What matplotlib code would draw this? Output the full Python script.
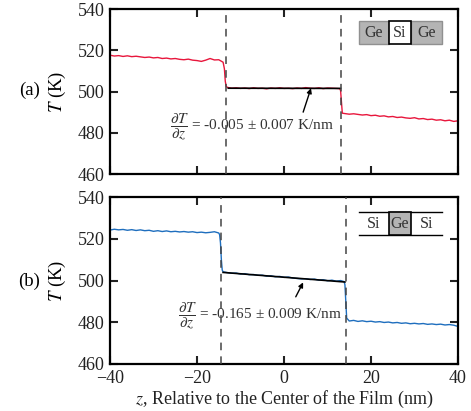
import matplotlib
matplotlib.use("Agg")
import matplotlib.pyplot as plt
from matplotlib.patches import Rectangle

plt.rcParams['font.family'] = ['Liberation Serif', 'DejaVu Serif']
plt.rcParams['mathtext.fontset'] = 'stix'
plt.rcParams['font.size'] = 12

# ---- panel (a): Ge | Si | Ge ----
z_a = [-40, -39, -38, -37, -36, -35, -34, -33, -32, -31, -30, -29, -28, -27, -26,
       -25, -24, -23, -22, -21, -20, -19, -18, -17, -16, -15, -14,
       -13.7, -13.5, -13.3,
       -13, -12, -11, -10, -9, -8, -7, -6, -5, -4, -3, -2, -1, 0, 1, 2, 3, 4, 5,
       6, 7, 8, 9, 10, 11, 12, 12.8,
       13.0, 13.2, 13.4,
       14, 15, 16, 17, 18, 19, 20, 21, 22, 23, 24, 25, 26, 27, 28, 29, 30, 31,
       32, 33, 34, 35, 36, 37, 38, 39, 40]
T_a = [517.6, 517.2, 517.4, 517.0, 517.3, 516.9, 517.1, 516.8, 516.5, 516.7,
       516.3, 516.5, 516.0, 516.2, 515.8, 516.0, 515.6, 515.4, 515.7, 515.2,
       515.0, 514.6, 515.2, 516.0, 515.3, 515.4, 514.2,
       511.0, 505.0, 502.5,
       502.0, 501.6, 501.8, 501.5, 501.7, 501.4, 501.8, 501.5, 501.6, 501.3,
       501.7, 501.5, 501.8, 501.5, 501.6, 501.4, 501.7, 501.5, 501.9, 501.6,
       501.5, 501.8, 501.4, 501.7, 501.6, 501.5, 501.4,
       500.5, 495.0, 489.5,
       489.3, 489.0, 489.2, 488.9, 488.6, 488.8, 488.3, 488.5, 488.0, 488.2,
       487.7, 487.9, 487.4, 487.6, 487.2, 487.0, 487.3, 486.7, 486.9, 486.4,
       486.6, 486.1, 486.3, 485.8, 486.1, 485.5, 485.8]
fit_z_a = [-12.8, 13.0]
fit_T_a = [501.6, 501.5]
iface_a = [-13.3, 13.1]

# ---- panel (b): Si | Ge | Si ----
z_b = [-40, -39, -38, -37, -36, -35, -34, -33, -32, -31, -30, -29, -28, -27, -26,
       -25, -24, -23, -22, -21, -20, -19, -18, -17, -16, -15, -14.8,
       -14.6, -14.4, -14.2,
       -14, -13, -12, -11, -10, -9, -8, -7, -6, -5, -4, -3, -2, -1, 0, 1, 2, 3,
       4, 5, 6, 7, 8, 9, 10, 11, 12, 13, 13.8,
       14.0, 14.2, 14.4,
       15, 16, 17, 18, 19, 20, 21, 22, 23, 24, 25, 26, 27, 28, 29, 30, 31, 32,
       33, 34, 35, 36, 37, 38, 39, 40]
T_b = [524.2, 524.6, 524.3, 524.5, 524.1, 524.4, 524.0, 524.3, 523.9, 524.1,
       523.6, 523.9, 523.5, 523.8, 523.4, 523.6, 523.3, 523.5, 523.2, 523.4,
       523.0, 523.2, 522.9, 523.1, 523.4, 522.8, 522.0,
       518.0, 510.0, 505.0,
       504.2, 503.8, 503.5, 503.6, 503.1, 503.3, 502.8, 502.9, 502.5, 502.6,
       502.1, 502.3, 501.8, 502.0, 501.5, 501.7, 501.2, 501.0, 500.8, 500.9,
       500.5, 500.7, 500.2, 500.4, 499.9, 500.2, 499.7, 500.0, 499.5,
       498.0, 490.0, 482.0,
       480.6, 480.9, 480.4, 480.7, 480.3, 480.5, 480.1, 480.3, 479.9, 480.1,
       479.7, 479.9, 479.5, 479.7, 479.3, 479.5, 479.2, 479.4, 479.0, 479.2,
       478.9, 479.1, 478.7, 478.9, 478.6, 478.0]
fit_z_b = [-14.0, 14.0]
fit_T_b = [503.9, 499.3]
iface_b = [-14.5, 14.2]

fig = plt.figure(figsize=(4.71, 4.11), dpi=100)
ax_a = fig.add_axes([0.2335, 0.5766, 0.739, 0.4015])
ax_b = fig.add_axes([0.2335, 0.1144, 0.739, 0.406])


def style(ax):
    ax.set_xlim(-40, 40)
    ax.set_ylim(460, 540)
    ax.set_xticks([-40, -20, 0, 20, 40])
    ax.set_yticks([460, 480, 500, 520, 540])
    ax.tick_params(direction='in', length=6, width=1.5, top=True, right=True,
                   labelsize=13, colors='#222222', pad=4)
    for s in ax.spines.values():
        s.set_linewidth(1.6)
    ax.set_ylabel('$T$ (K)', fontsize=13.5)
    ax.yaxis.set_label_coords(-0.121, 0.5)


def cell(ax, x0, x1, y0, y1, fc, ec, lw=1.0):
    ax.add_patch(Rectangle((x0, y0), x1 - x0, y1 - y0, transform=ax.transAxes,
                           facecolor=fc, edgecolor=ec, lw=lw, zorder=5))


# panel (a)
ax = ax_a
style(ax)
ax.tick_params(labelbottom=False)
ax.plot(z_a, T_a, color='#e8163c', lw=1.0)
ax.plot(fit_z_a, fit_T_a, color='black', lw=1.2)
for zi in iface_a:
    ax.axvline(zi, color='#444444', lw=1.1, ls=(0, (5, 4)), zorder=4)
ax.text(-26.3, 482.3, r'$\dfrac{\partial T}{\partial z}$ = -0.005 ± 0.007 K/nm',
        ha='left', va='center', fontsize=11, color='#333333')
ax.annotate('', xy=(6.2, 501.6), xytext=(4.4, 490.0),
            arrowprops=dict(arrowstyle='-|>', color='black', lw=1.0,
                            mutation_scale=7, shrinkA=0, shrinkB=0))
y0, y1 = 0.786, 0.929
cell(ax, 0.7155, 0.802, y0, y1, '#b4b4b4', '#909090')
cell(ax, 0.865, 0.954, y0, y1, '#b4b4b4', '#909090')
cell(ax, 0.802, 0.865, y0, y1, 'white', 'black', 1.2)
for lab, xc in zip(['Ge', 'Si', 'Ge'], [0.7585, 0.8335, 0.9095]):
    ax.text(xc, (y0 + y1) / 2, lab, transform=ax.transAxes, ha='center',
            va='center', fontsize=11.5, color='#333333', zorder=6)

# panel (b)
ax = ax_b
style(ax)
ax.plot(z_b, T_b, color='#1e6ebe', lw=1.0)
ax.plot(fit_z_b, fit_T_b, color='black', lw=1.2)
for zi in iface_b:
    ax.axvline(zi, color='#444444', lw=1.1, ls=(0, (5, 4)), zorder=4)
ax.text(-24.4, 482.5, r'$\dfrac{\partial T}{\partial z}$ = -0.165 ± 0.009 K/nm',
        ha='left', va='center', fontsize=11, color='#333333')
ax.annotate('', xy=(4.4, 499.1), xytext=(2.7, 492.2),
            arrowprops=dict(arrowstyle='-|>', color='black', lw=1.0,
                            mutation_scale=7, shrinkA=0, shrinkB=0))
y0, y1 = 0.771, 0.912
ax.plot([0.7155, 0.954], [y0, y0], transform=ax.transAxes, color='black', lw=1.0, zorder=5)
ax.plot([0.7155, 0.954], [y1, y1], transform=ax.transAxes, color='black', lw=1.0, zorder=5)
cell(ax, 0.802, 0.865, y0, y1, '#b4b4b4', 'black', 1.2)
for lab, xc in zip(['Si', 'Ge', 'Si'], [0.7585, 0.8335, 0.9095]):
    ax.text(xc, (y0 + y1) / 2, lab, transform=ax.transAxes, ha='center',
            va='center', fontsize=11.5, color='#333333', zorder=6)
ax.set_xlabel('$z$, Relative to the Center of the Film (nm)', fontsize=13,
              color='#222222', labelpad=2)

fig.text(0.062, 1 - 90 / 411, '(a)', ha='center', va='center', fontsize=13.5)
fig.text(0.062, 1 - 281 / 411, '(b)', ha='center', va='center', fontsize=13.5)

fig.savefig('out.png', dpi=100)
